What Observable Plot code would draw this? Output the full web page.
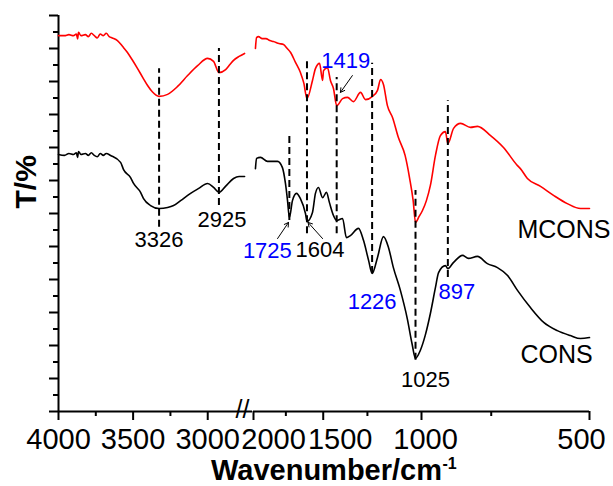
<!DOCTYPE html>
<html><head><meta charset="utf-8">
<script src="https://cdn.jsdelivr.net/npm/d3@7"></script>
<script src="https://cdn.jsdelivr.net/npm/@observablehq/plot@0.6"></script>
<style>
body{margin:0;background:#fff}
#chart{position:relative;width:613px;height:486px}
#chart svg{position:absolute;left:0;top:0;background:transparent}
</style>
</head><body><div id="chart"></div>
<script>
// ---------- data ----------
// Left segment (4000 - 2700 cm-1), linear
const mconsLeftWn = [4000,3960,3930,3900,3880,3872,3866,3850,3820,3800,3780,3760,3740,3720,3700,3680,3660,3640,3605,3570,3538,3505,3470,3435,3403,3370,3326,3269,3202,3135,3068,3001,2961,2925,2880,2850,2827,2790,2753];
const mconsLeftT  = [113.9,113.9,114.2,113.9,114.4,112.9,114.9,113.9,114.2,113.6,114.6,113.9,113.2,114.4,113.9,114.6,113.6,113.2,112.4,110.6,108.8,106.5,103.9,101.2,98.8,96.8,95.5,96.1,98.5,101.8,104.8,107.0,106.1,102.7,103.6,105.2,106.4,107.6,108.5];
const consLeftWn  = [4000,3960,3930,3900,3880,3872,3866,3850,3820,3800,3780,3760,3740,3720,3700,3680,3651,3584,3564,3517,3497,3450,3430,3383,3326,3269,3229,3182,3115,3060,3001,2961,2925,2881,2827,2790,2753];
const consLeftT   = [77.9,77.6,78.2,77.9,78.4,77.0,78.8,77.9,78.2,77.6,78.4,77.6,77.2,78.2,77.6,78.2,77.6,75.5,73.3,70.9,69.1,66.4,64.5,62.4,61.5,61.8,62.4,63.9,66.1,67.6,69.1,67.9,66.4,68.2,70.6,71.2,71.2];

// Right segment (2000 - 500 cm-1), logarithmic
const mconsRightWn = [1984,1975,1959,1930,1900,1870,1842,1800,1767,1740,1716,1682,1648,1625,1604,1568,1549,1523,1504,1498,1474,1456,1438,1419,1385,1357,1324,1286,1260,1224,1199,1184,1170,1151,1127,1100,1070,1050,1035,1025,1010,996,980,964,944,925,906,897,876,851,817,794,752,713,673,665,646,612,580,548,519,500];
const mconsRightT  = [110.0,113.3,113.6,113.0,113.0,112.4,112.1,111.5,111.2,110.0,108.8,105.8,102.7,99.5,94.8,100.3,103.9,105.5,100.3,103.3,104.2,100.3,97.9,92.7,94.8,95.2,93.9,96.7,94.5,95.5,97.3,100.6,99.1,92.7,89.1,83.0,77.6,70.6,63.9,57.3,59.1,60.9,63.9,68.5,77.6,83.6,84.8,81.2,85.8,87.3,86.1,86.4,83.6,80.0,74.5,73.6,70.6,68.2,65.5,63.0,61.5,61.5];
const consRightWn  = [1984,1975,1943,1888,1811,1775,1753,1738,1725,1703,1675,1648,1614,1604,1568,1549,1530,1504,1480,1462,1438,1419,1385,1363,1341,1297,1270,1244,1226,1199,1170,1146,1123,1091,1060,1040,1025,1005,985,964,944,932,906,897,876,844,824,794,762,731,701,673,638,604,571,541,519,500];
const consRightT   = [73.6,76.7,77.0,75.8,75.8,73.9,69.1,63.9,58.8,63.9,66.1,64.5,60.0,57.6,60.3,66.1,67.9,64.8,66.4,63.3,59.4,57.9,58.5,52.7,53.3,55.5,51.8,45.8,41.8,46.7,53.0,49.7,43.6,36.7,28.0,20.6,16.1,18.5,23.0,29.7,37.6,42.1,44.2,43.3,45.2,47.3,46.4,47.0,44.8,43.6,41.2,36.7,31.5,27.0,24.5,23.0,22.1,22.4];

// Peak markers
const peakWn     = [3326, 2925, 1725, 1604, 1419, 1226, 1025, 897];
const peakTop    = [103.9, 110.0, 84.2, 106.4, 101.2, 105.5, 67.0, 94.2];
const peakBottom = [55.8, 62.4, 57.9, 53.9, 53.9, 41.8, 15.5, 40.6];
const peakLabelT = [49.7, 55.8, 46.4, 46.7, 104.2, 31.2, 7.3, 34.2];
const peakColor  = ["black","black","#0000ff","black","#0000ff","#0000ff","black","#0000ff"];
const peakDx     = [0, 3, -22, 13, 9, 0, 10, 9];

// Arrows (from label to band)
const arrowX1 = [1811, 1504, 1330];
const arrowT1 = [52.4, 52.4, 101.8];
const arrowX2 = [1731, 1597, 1397];
const arrowT2 = [57.3, 57.3, 96.7];

// Axis ticks
const leftMajor  = [4000, 3500, 3000];
const leftMinor  = [3750, 3250];
const rightMajor = [2000, 1500, 1000, 500];
const rightMinor = [1750, 1250, 750];
const rightLabelDx = [20, 17, 4, -8];
const yMajor = d3.range(0, 121, 10);
const yMinor = d3.range(5, 120, 10);

// series names
const seriesNames = ["MCONS", "CONS"];
const seriesLabelWn = [673, 665];
const seriesLabelT = [52.7, 14.8];

// ---------- drawing ----------
const font = "'Liberation Sans', Arial, Helvetica, sans-serif";
const peaks = peakWn.map((wn, i) => ({wn, top: peakTop[i], bottom: peakBottom[i], labelT: peakLabelT[i], color: peakColor[i], dx: peakDx[i], label: String(wn)}));
const arrows = arrowX1.map((x1, i) => ({x1, y1: arrowT1[i], x2: arrowX2[i], y2: arrowT2[i]}));

const common = {
  width: 613, height: 486, marginTop: 15, marginBottom: 75,
  y: {domain: [0, 120]},
  style: {fontFamily: font, background: "transparent", overflow: "visible", color: "black"}
};
const blank = () => "";

function peakMarks(list) {
  return [
    Plot.ruleX(list, {x: "wn", y1: "bottom", y2: "top", stroke: "black", strokeWidth: 2, strokeDasharray: "7,4"}),
    ...list.map(p => Plot.text([p], {x: "wn", y: "labelT", text: "label", fill: p.color, dx: p.dx, lineAnchor: "bottom", fontSize: 22}))
  ];
}

const leftPlot = Plot.plot({
  ...common,
  marginLeft: 58, marginRight: 361,
  x: {domain: [4000, 2700]},
  marks: [
    Plot.ruleY([0], {stroke: "black", strokeWidth: 2}),
    Plot.ruleX([4000], {stroke: "black", strokeWidth: 2}),
    Plot.axisY({ticks: yMajor, tickSize: 9, tickFormat: blank, strokeWidth: 2, label: null}),
    Plot.axisY({ticks: yMinor, tickSize: 5, tickFormat: blank, strokeWidth: 2, label: null}),
    Plot.axisX({ticks: leftMajor, tickSize: 9, tickFormat: blank, strokeWidth: 2, label: null}),
    Plot.axisX({ticks: leftMinor, tickSize: 5, tickFormat: blank, strokeWidth: 2, label: null}),
    Plot.text(leftMajor, {x: d => d, text: d => String(d), frameAnchor: "bottom", dy: 37, lineAnchor: "bottom", fontSize: 29}),
    Plot.text(["//"], {frameAnchor: "bottom-right", dx: -3, dy: 6, fontSize: 25}),
    Plot.text(["T/%"], {frameAnchor: "left", rotate: -90, dx: -32, dy: -5, fontSize: 30, fontWeight: "bold"}),
    Plot.line(mconsLeftT, {x: mconsLeftWn, y: mconsLeftT, stroke: "#ff0000", strokeWidth: 1.6, curve: "monotone-x"}),
    Plot.line(consLeftT, {x: consLeftWn, y: consLeftT, stroke: "black", strokeWidth: 1.6, curve: "monotone-x"}),
    ...peakMarks(peaks.filter(p => p.wn > 2500))
  ]
});

const rightPlot = Plot.plot({
  ...common,
  marginLeft: 253, marginRight: 24,
  x: {type: "log", domain: [2000, 500]},
  y: {domain: [0, 120], axis: null},
  marks: [
    Plot.ruleY([0], {stroke: "black", strokeWidth: 2}),
    Plot.axisX({ticks: rightMajor, tickSize: 9, tickFormat: blank, strokeWidth: 2, label: null}),
    Plot.axisX({ticks: rightMinor, tickSize: 5, tickFormat: blank, strokeWidth: 2, label: null}),
    ...rightMajor.map((t, i) => Plot.text([t], {x: d => d, text: d => String(d), frameAnchor: "bottom", dy: 37, dx: rightLabelDx[i], lineAnchor: "bottom", fontSize: 29})),
    Plot.text(["Wavenumber/cm"], {frameAnchor: "bottom", dx: -95, dy: 68, lineAnchor: "bottom", fontSize: 29, fontWeight: "bold"}),
    Plot.text(["-1"], {frameAnchor: "bottom", dx: 21, dy: 57, lineAnchor: "bottom", textAnchor: "start", fontSize: 16, fontWeight: "bold"}),
    Plot.line(mconsRightT, {x: mconsRightWn, y: mconsRightT, stroke: "#ff0000", strokeWidth: 1.6, curve: "monotone-x"}),
    Plot.line(consRightT, {x: consRightWn, y: consRightT, stroke: "black", strokeWidth: 1.6, curve: "monotone-x"}),
    ...peakMarks(peaks.filter(p => p.wn < 2500)),
    Plot.arrow(arrows, {x1: "x1", y1: "y1", x2: "x2", y2: "y2", stroke: "black", strokeWidth: 1, headLength: 7}),
    Plot.text(seriesNames, {x: seriesLabelWn, y: seriesLabelT, text: d => d, textAnchor: "start", lineAnchor: "bottom", fontSize: 25})
  ]
});

const chart = document.getElementById("chart");
chart.appendChild(leftPlot);
chart.appendChild(rightPlot);
</script>
</body></html>
